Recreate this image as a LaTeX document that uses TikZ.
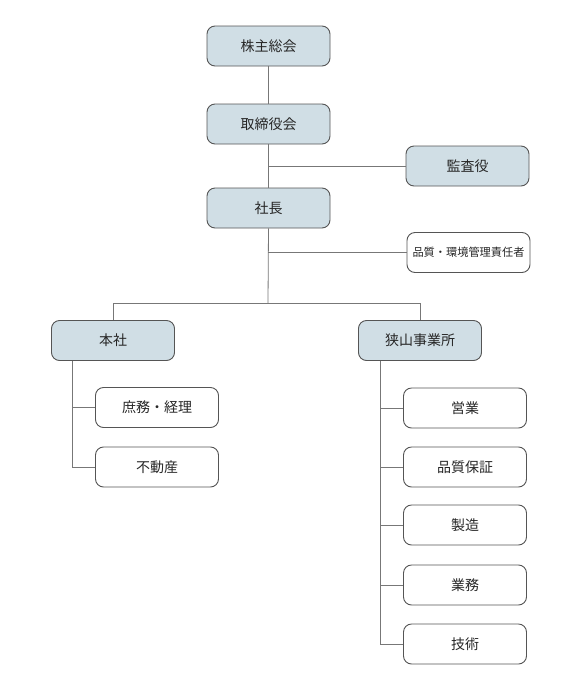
\documentclass[tikz,border=0pt]{standalone}
\usepackage{fontspec}
\setmainfont{Noto Sans CJK JP}
\definecolor{boxfill}{HTML}{D0DEE5}
\definecolor{boxline}{HTML}{555555}
\definecolor{conn}{HTML}{777777}
\begin{document}
\begin{tikzpicture}[x=1pt,y=-1pt,
  base/.style={draw=boxline,line width=0.9pt,rounded corners=8pt,minimum width=123pt,minimum height=40pt,inner sep=0pt,font=\fontsize{14}{16}\selectfont,text=black!85},
  topbox/.style={base,fill=boxfill},
  subbox/.style={base,fill=white},
  conline/.style={draw=conn,line width=0.8pt}]
\useasboundingbox (0,0) rectangle (576,694);
\node[topbox] (kabu) at (268.5,46) {株主総会};
\node[topbox] (tori) at (268.5,124) {取締役会};
\node[topbox] (kansa) at (467.5,166) {監査役};
\node[topbox] (sha) at (268.5,208) {社長};
\node[subbox,font=\fontsize{11.2}{13}\selectfont] (hin) at (468.5,252.5) {品質・環境管理責任者};
\node[topbox] (hon) at (113,340.5) {本社};
\node[topbox] (saya) at (420,340.5) {狭山事業所};
\node[subbox] (sho) at (157,407.5) {庶務・経理};
\node[subbox] (fudo) at (157,467) {不動産};
\node[subbox] (ei) at (465,408) {営業};
\node[subbox] (hinsho) at (465,467) {品質保証};
\node[subbox] (sei) at (465,525) {製造};
\node[subbox] (gyo) at (465,585) {業務};
\node[subbox] (gi) at (465,644) {技術};
\coordinate (j1) at (268,166);
\coordinate (j2) at (268,252.5);
\coordinate (j3) at (268,303);
\coordinate (hl) at (113,303);
\coordinate (hr) at (420,303);
\coordinate (l1) at (72,407.5);
\coordinate (l2) at (72,467);
\coordinate (r1) at (380,408);
\coordinate (r2) at (380,467);
\coordinate (r3) at (380,525);
\coordinate (r4) at (380,585);
\coordinate (r5) at (380,644);
\draw[conline] (kabu) -- (tori);
\draw[conline] (tori) -- (sha);
\draw[conline] (j1) -- (kansa.west);
\draw[conline] (j2) -- (hin.west);
\draw[conline] (sha.south) -- (j3);
\draw[conline] (hon.north) -- (hl) -- (hr) -- (saya.north);
\draw[conline] (hon.south -| l1) -- (l2) -- (fudo.west);
\draw[conline] (l1) -- (sho.west);
\draw[conline] (saya.south -| r1) -- (r5) -- (gi.west);
\draw[conline] (r1) -- (ei.west);
\draw[conline] (r2) -- (hinsho.west);
\draw[conline] (r3) -- (sei.west);
\draw[conline] (r4) -- (gyo.west);
\end{tikzpicture}
\end{document}
